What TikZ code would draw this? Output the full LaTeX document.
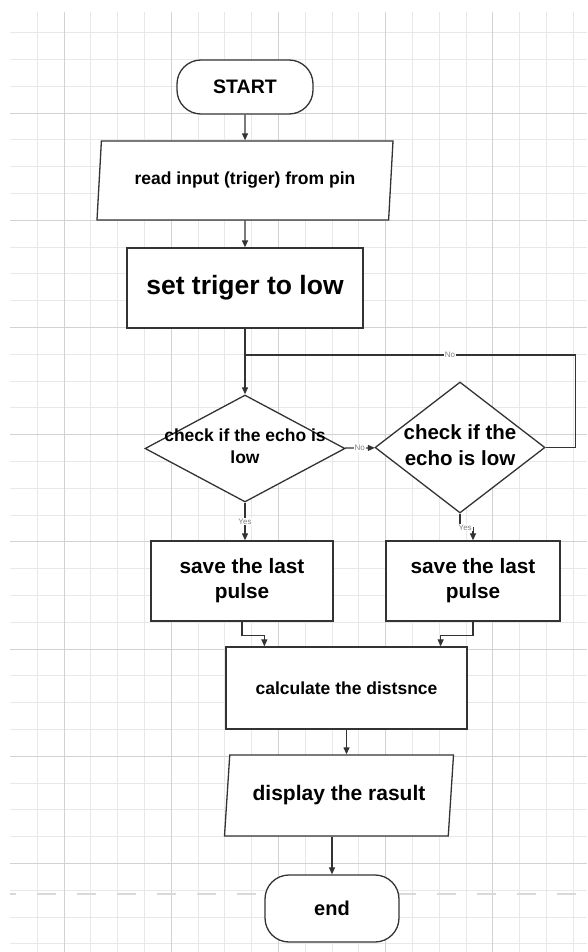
\documentclass[tikz,border=0pt]{standalone}
\usepackage{fontspec}
\setmainfont{Liberation Sans}
\usepackage{xcolor}
\usetikzlibrary{shapes.geometric,arrows.meta}
\definecolor{fcline}{HTML}{333333}
\definecolor{gridminor}{HTML}{E8E8E8}
\definecolor{gridmajor}{HTML}{D2D2D2}

\begin{document}
\begin{tikzpicture}[x=1pt,y=-1pt]
        \tikzset{
        fc term/.style={rectangle,draw=fcline,line width=1.3pt,fill=white,rounded corners=24pt,inner sep=0},
        fc io/.style={trapezium,trapezium left angle=75,trapezium right angle=105,trapezium stretches body,draw=fcline,line width=1.3pt,fill=white,inner sep=0},
        fc proc/.style={rectangle,draw=fcline,line width=1.3pt,fill=white,inner sep=0,align=center},
        fc dec/.style={diamond,draw=fcline,line width=1.3pt,fill=white,inner sep=0},
        fc text/.style={align=center,inner sep=0},
        fc edge/.style={draw=fcline,line width=1.2pt},
        fc arrow/.style={fc edge,-{Triangle[length=7pt,width=6pt]}},
        fc tag/.style={fill=white,text=black!50,inner sep=1pt,font=\fontsize{8}{8}\selectfont},
        grid minor/.style={gridminor,line width=0.8pt},
        grid major/.style={gridmajor,line width=0.9pt},
        page break/.style={black!15,line width=1.6pt,dash pattern=on 19pt off 21pt,dash phase=13pt}
        }
        \useasboundingbox (0,0) rectangle (587,952);
        % background grid
        \foreach \k in {1,...,21} \draw[grid minor] ({10.4+26.8*\k},12) -- ({10.4+26.8*\k},952);
        \foreach \k in {1,...,35} \draw[grid minor] (10,{5.8+26.8*\k}) -- (587,{5.8+26.8*\k});
        \foreach \gx in {64,171.2,278.4,385.6,492.8} \draw[grid major] (\gx,12) -- (\gx,952);
        \foreach \gy in {113,220.2,327.4,434.6,541.8,649,756.2,863.4} \draw[grid major] (10,\gy) -- (587,\gy);
        \draw[page break] (10,894) -- (587,894);

        \node[fc term,minimum width=136,minimum height=54,font=\fontsize{19.5}{22}\selectfont\bfseries] (1) at (245,87) {START};
        \node[fc io,minimum width=296,minimum height=79,font=\fontsize{17.5}{20}\selectfont\bfseries] (2) at (245,180.5) {read input (triger) from pin};
        \node[fc proc,minimum width=236,minimum height=80,font=\fontsize{26.5}{30}\selectfont\bfseries] (3) at (245,288) {set triger to low};
        \coordinate (j) at (245,355);
        \node[fc dec,minimum width=200,minimum height=107] (4) at (245,448.5) {};
        \node[fc text,font=\fontsize{17.5}{22}\selectfont\bfseries] (4t) at (245,446) {check if the echo is\\low};
        \node[fc dec,minimum width=170,minimum height=131] (5) at (460,447.5) {};
        \node[fc text,font=\fontsize{20.5}{26}\selectfont\bfseries] (5t) at (460,445) {check if the\\echo is low};
        \node[fc proc,minimum width=182,minimum height=80,font=\fontsize{20.8}{25}\selectfont\bfseries] (6) at (242,581) {save the last\\pulse};
        \node[fc proc,minimum width=174,minimum height=80,font=\fontsize{20.8}{25}\selectfont\bfseries] (7) at (473,581) {save the last\\pulse};
        \node[fc proc,minimum width=241,minimum height=82,font=\fontsize{17.5}{20}\selectfont\bfseries] (8) at (346.5,688) {calculate the distsnce};
        \node[fc io,minimum width=229,minimum height=81,font=\fontsize{21}{24}\selectfont\bfseries] (9) at (339,795.5) {display the rasult};
        \node[fc term,minimum width=134,minimum height=67,font=\fontsize{20}{22}\selectfont\bfseries] (10) at (332,908.5) {end};

        \path[fc arrow] (1) -- (2);
        \path[fc arrow] (2) -- (3);
        \path[fc edge] (3) -- (j);
        \path[fc arrow] (j) -- (4);
        \path[fc arrow] (4) -- node[fc tag] (n1) {No} (5);
        \path[fc edge] (5.east) -- ++(30,0) |- node[fc tag,pos=0.69] (n2) {No} (j);
        \path[fc arrow] (4.south) -- node[fc tag] (y1) {Yes} (4.south |- 6.north);
        \path[fc arrow] (5.south) -- ++(0,14) -| node[fc tag,pos=0.2] (y2) {Yes} (7.north);
        \path[fc arrow] (6.south) -- ++(0,14) -| ([xshift=39pt]8.north west);
        \path[fc arrow] (7.south) -- ++(0,14) -| ([xshift=-27pt]8.north east);
        \path[fc arrow] (8.south) -- (8.south |- 9.north);
        \path[fc arrow] (10.north |- 9.south) -- (10.north);
\end{tikzpicture}
\end{document}
